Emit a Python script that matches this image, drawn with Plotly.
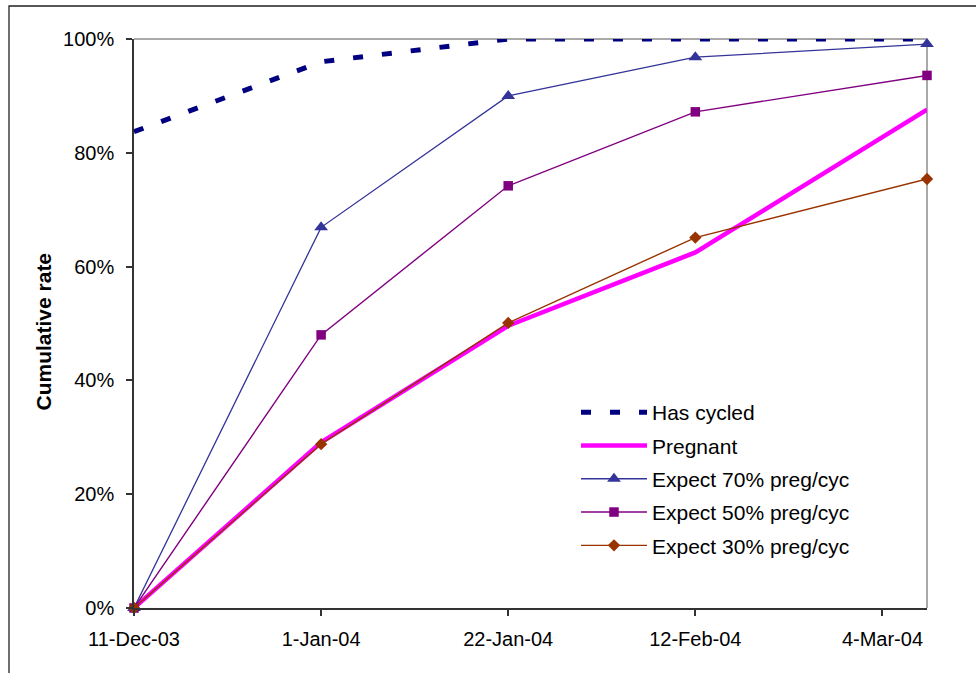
import plotly.graph_objects as go

# Observation dates (x axis is a true date axis)
dates = ["2003-12-11", "2004-01-01", "2004-01-22", "2004-02-12", "2004-03-09"]

# Cumulative rates, in percent
has_cycled = [83.7, 96.0, 100.0, 100.0, 100.0]
pregnant = [0.0, 29.1, 49.6, 62.5, 87.6]
expect_70 = [0.0, 66.9, 90.0, 96.8, 99.1]
expect_50 = [0.0, 48.0, 74.2, 87.2, 93.6]
expect_30 = [0.0, 28.8, 50.1, 65.1, 75.4]

# Axis ticks
x_tick_dates = ["2003-12-11", "2004-01-01", "2004-01-22", "2004-02-12", "2004-03-04"]
x_tick_labels = ["11-Dec-03", "1-Jan-04", "22-Jan-04", "12-Feb-04", "4-Mar-04"]
y_tick_vals = [0, 20, 40, 60, 80, 100]
y_tick_labels = ["0%", "20%", "40%", "60%", "80%", "100%"]

FONT = "Arial, Liberation Sans, sans-serif"
W, H = 976, 673
L, R, T, B = 134, 49, 39, 65

fig = go.Figure()

fig.add_trace(go.Scatter(
    x=dates, y=has_cycled, name="Has cycled", mode="lines", legendgroup="a",
    line=dict(color="#000080", width=5, dash="10px,19px"),
    cliponaxis=False,
))
fig.add_trace(go.Scatter(
    x=dates, y=pregnant, name="Pregnant", mode="lines", legendgroup="b",
    line=dict(color="#FF00FF", width=4.5),
    cliponaxis=False,
))
fig.add_trace(go.Scatter(
    x=dates, y=expect_70, name="Expect 70% preg/cyc", mode="lines+markers",
    legendgroup="c",
    line=dict(color="#333399", width=1.3),
    marker=dict(symbol="triangle-up", size=12, color="#333399"),
    cliponaxis=False,
))
fig.add_trace(go.Scatter(
    x=dates, y=expect_50, name="Expect 50% preg/cyc", mode="lines+markers",
    legendgroup="d",
    line=dict(color="#800080", width=1.4),
    marker=dict(symbol="square", size=9.5, color="#800080"),
    cliponaxis=False,
))
fig.add_trace(go.Scatter(
    x=dates, y=expect_30, name="Expect 30% preg/cyc", mode="lines+markers",
    legendgroup="e",
    line=dict(color="#993300", width=1.4),
    marker=dict(symbol="diamond", size=9.5, color="#993300"),
    cliponaxis=False,
))

pw = W - L - R
ph = H - T - B


def px_x(p):
    return (p - L) / pw


def px_y(p):
    return (H - B - p) / ph


shapes = [
    # plot-area border (top and right)
    dict(type="line", xref="paper", yref="paper", x0=0, x1=1, y0=1, y1=1,
         line=dict(color="#8c8c8c", width=1.5), layer="below"),
    dict(type="line", xref="paper", yref="paper", x0=1, x1=1, y0=0, y1=1,
         line=dict(color="#8c8c8c", width=1.5), layer="below"),
    # chart-area frame
    dict(type="rect", xref="paper", yref="paper",
         x0=px_x(9), x1=px_x(W + 20), y0=px_y(6), y1=px_y(H + 20),
         line=dict(color="#222222", width=1.3), layer="below"),
]

fig.update_layout(
    width=W, height=H,
    margin=dict(l=L, r=R, t=T, b=B, pad=0),
    paper_bgcolor="white", plot_bgcolor="white",
    font=dict(family=FONT, size=20, color="black"),
    showlegend=True,
    legend=dict(
        x=px_x(576), y=px_y(392), xanchor="left", yanchor="top",
        bgcolor="rgba(0,0,0,0)", borderwidth=0,
        itemwidth=66, tracegroupgap=3,
        font=dict(family=FONT, size=21, color="black"),
    ),
    shapes=shapes,
    annotations=[
        dict(text="<b>Cumulative rate</b>", textangle=-90,
             xref="paper", yref="paper", x=px_x(43.5), y=px_y(332),
             xanchor="center", yanchor="middle", showarrow=False,
             font=dict(family=FONT, size=21, color="black")),
    ],
    xaxis=dict(
        type="date",
        range=[dates[0], dates[-1]],
        tickmode="array", tickvals=x_tick_dates, ticktext=x_tick_labels,
        showgrid=False, zeroline=False,
        showline=True, linecolor="#333333", linewidth=1.5,
        ticks="outside", ticklen=6, tickcolor="#333333", tickwidth=1.5,
        ticklabelstandoff=6,
        tickfont=dict(family=FONT, size=20),
    ),
    yaxis=dict(
        range=[0, 100],
        tickmode="array", tickvals=y_tick_vals, ticktext=y_tick_labels,
        showgrid=False, zeroline=False,
        showline=True, linecolor="#333333", linewidth=1.5,
        ticks="outside", ticklen=6, tickcolor="#333333", tickwidth=1.5,
        ticklabelstandoff=8,
        tickfont=dict(family=FONT, size=20),
    ),
)

fig.write_html("out.html")
